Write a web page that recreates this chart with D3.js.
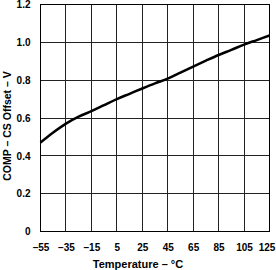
<!DOCTYPE html>
<html><head><meta charset="utf-8">
<script src="https://cdn.jsdelivr.net/npm/d3@7"></script>
<style>html,body{margin:0;padding:0;background:#fff;}</style>
</head><body>
<svg id="c" width="276" height="270"></svg>
<script>
const temps = [-55,-45,-35,-25,-15,-5,5,15,25,35,45,55,65,75,85,95,105,115,125];
const offsetV = [0.47,0.523,0.57,0.607,0.636,0.668,0.70,0.728,0.756,0.783,0.808,0.84,0.872,0.903,0.933,0.96,0.988,1.012,1.036];
const xTicks = [-55,-35,-15,5,25,45,65,85,105,125];
const yTicks = [0,0.2,0.4,0.6,0.8,1.0,1.2];
const xTitle = "Temperature – °C";
const yTitle = "COMP – CS Offset – V";

const svg = d3.select("#c");
const L = 40.5, R = 269.5, T = 4.5, B = 231.5;
const x = d3.scaleLinear().domain([-55,125]).range([L,R]);
const y = d3.scaleLinear().domain([0,1.2]).range([B,T]);
const font = "'Liberation Sans', Arial, sans-serif";

// grid
svg.append("g").selectAll("line").data(xTicks).join("line")
  .attr("x1",d=>Math.round(x(d)-0.5)+0.5).attr("x2",d=>Math.round(x(d)-0.5)+0.5)
  .attr("y1",T).attr("y2",B).attr("stroke","#222").attr("stroke-width",1);
svg.append("g").selectAll("line").data(yTicks).join("line")
  .attr("y1",d=>Math.round(y(d)-0.5)+0.5).attr("y2",d=>Math.round(y(d)-0.5)+0.5)
  .attr("x1",L).attr("x2",R).attr("stroke","#222").attr("stroke-width",1);
svg.append("rect").attr("x",L).attr("y",T).attr("width",R-L).attr("height",B-T)
  .attr("fill","none").attr("stroke","#000").attr("stroke-width",1);

// axes labels
const xa = svg.append("g").attr("transform",`translate(0,${B})`)
  .call(d3.axisBottom(x).tickValues(xTicks).tickSize(0).tickPadding(12).tickFormat(d=>d<0?"–"+(-d):d));
const ya = svg.append("g").attr("transform",`translate(${L},0)`)
  .call(d3.axisLeft(y).tickValues(yTicks).tickSize(0).tickPadding(10).tickFormat(d=>d===0?"0":d3.format(".1f")(d)));
[xa,ya].forEach(a=>{a.select(".domain").remove();
  a.selectAll("text").attr("font-family",font).attr("font-weight","bold").attr("font-size","10px").attr("fill","#000");});
xa.selectAll("text").filter(d=>d===125).attr("dx",-3);

// line
svg.append("path").datum(temps.map((t,i)=>[t,offsetV[i]]))
  .attr("d",d3.line().x(d=>x(d[0])).y(d=>y(d[1])).curve(d3.curveMonotoneX))
  .attr("fill","none").attr("stroke","#000").attr("stroke-width",2.5);

svg.append("text").attr("x",138).attr("y",268).attr("text-anchor","middle")
  .attr("font-family",font).attr("font-weight","bold").attr("font-size","11px").text(xTitle);
svg.append("text").attr("transform",`translate(11,126) rotate(-90)`).attr("text-anchor","middle")
  .attr("font-family",font).attr("font-weight","bold").attr("font-size","10.5px").text(yTitle);
</script>
</body></html>
